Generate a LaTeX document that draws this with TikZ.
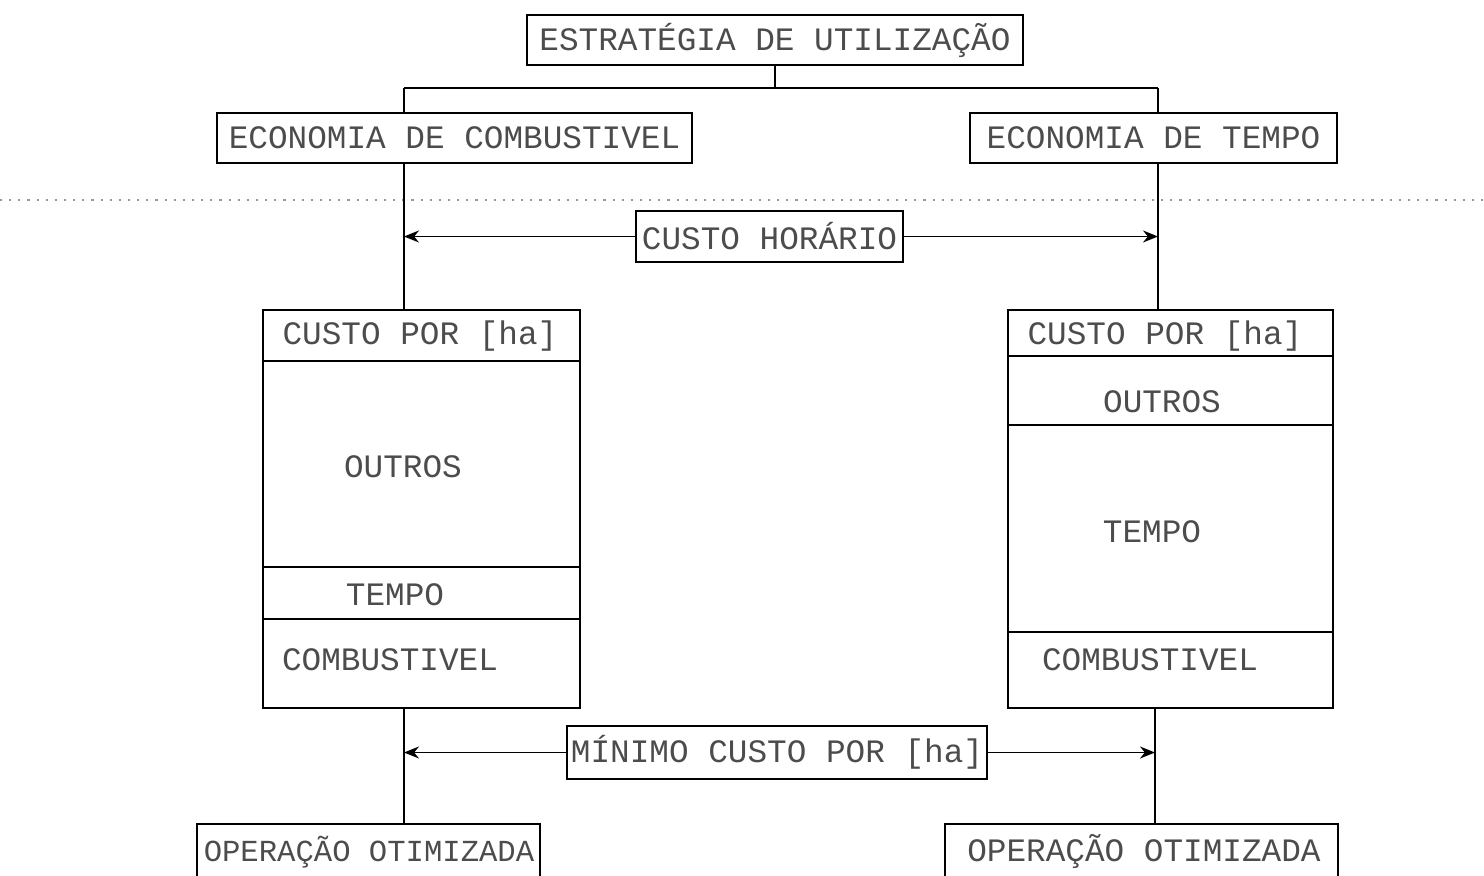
\documentclass[tikz,border=0pt]{standalone}
\usepackage{fontspec}
\usetikzlibrary{arrows.meta}
\newfontfamily\plotmono{Liberation Mono}
\tikzset{
  box/.style={draw, line width=0.5pt, inner sep=0pt, outer sep=0pt,
    text=black!70, font={\plotmono\fontsize{9.3}{11}\selectfont}},
  cell/.style={draw, line width=0.5pt, inner sep=0pt, outer sep=0pt},
  lbl/.style={inner sep=0pt, text=black!70, font={\plotmono\fontsize{9.3}{11}\selectfont}},
  link/.style={line width=0.5pt},
  >={Stealth[length=1.5mm,width=1.2mm]}
}
\begin{document}
\begin{tikzpicture}[x=0.01cm, y=-0.01cm]
  \path[use as bounding box] (0,0) rectangle (1484,875);
  \clip (0,0) rectangle (1484,875);

  % scan line
  \draw[black!40, dotted, line width=0.6pt] (0,200) -- (1484,200);

  \node[box, minimum width=4.96cm, minimum height=0.5cm] (top) at (775,40)
    {ESTRATÉGIA DE UTILIZAÇÃO};
  \node[box, minimum width=4.75cm, minimum height=0.5cm] (ecoComb) at (454.5,138)
    {ECONOMIA DE COMBUSTIVEL};
  \node[box, minimum width=3.67cm, minimum height=0.5cm] (ecoTempo) at (1153.5,138)
    {ECONOMIA DE TEMPO};
  \node[box, minimum width=2.67cm, minimum height=0.51cm] (custoHor) at (769.5,236.5)
    {CUSTO HORÁRIO};

  \coordinate (jL) at (404,88);
  \coordinate (jR) at (1158,88);
  \coordinate (kR) at (1155,720);

  \draw[link] (top.south) -- (top.south |- jL);
  \draw[link] (jL) -- (jR);
  \draw[link] (jL) -- (jL |- ecoComb.north);
  \draw[link] (jR) -- (jR |- ecoTempo.north);

  % left stack
  \node[cell, minimum width=3.17cm, minimum height=0.51cm] (lHa) at (421.5,335.5) {};
  \node[cell, minimum width=3.17cm, minimum height=2.06cm] (lOutros) at (421.5,464) {};
  \node[cell, minimum width=3.17cm, minimum height=0.52cm] (lTempo) at (421.5,593) {};
  \node[cell, minimum width=3.17cm, minimum height=0.89cm] (lComb) at (421.5,663.5) {};
  \node[lbl] (lHaT) at (420,336) {CUSTO POR [ha]};
  \node[lbl] (lOutrosT) at (403,467) {OUTROS};
  \node[lbl] (lTempoT) at (395,595) {TEMPO};
  \node[lbl] (lCombT) at (390,660) {COMBUSTIVEL};

  % right stack
  \node[cell, minimum width=3.25cm, minimum height=0.46cm] (rHa) at (1170.5,333) {};
  \node[cell, minimum width=3.25cm, minimum height=0.69cm] (rOutros) at (1170.5,390.5) {};
  \node[cell, minimum width=3.25cm, minimum height=2.07cm] (rTempo) at (1170.5,528.5) {};
  \node[cell, minimum width=3.25cm, minimum height=0.76cm] (rComb) at (1170.5,670) {};
  \node[lbl] (rHaT) at (1165,336) {CUSTO POR [ha]};
  \node[lbl] (rOutrosT) at (1162,402) {OUTROS};
  \node[lbl] (rTempoT) at (1152,532) {TEMPO};
  \node[lbl] (rCombT) at (1150,660) {COMBUSTIVEL};

  \draw[link] (ecoComb.south -| jL) -- (lHa.north -| jL);
  \draw[link] (ecoTempo.south -| jR) -- (rHa.north -| jR);
  \draw[link,->] (custoHor.west) -- (custoHor.west -| jL);
  \draw[link,->] (custoHor.east) -- (custoHor.east -| jR);

  \node[box, minimum width=4.20cm, minimum height=0.53cm] (minCusto) at (777,752.5)
    {MÍNIMO CUSTO POR [ha]};
  \node[box, minimum width=3.43cm, minimum height=0.7cm, anchor=north] (opL) at (368.5,824) {};
  \node[box, minimum width=3.93cm, minimum height=0.7cm, anchor=north] (opR) at (1141.5,824) {};
  \node[lbl, font={\plotmono\fontsize{8.7}{11}\selectfont}] (opLT) at (369,852) {OPERAÇÃO OTIMIZADA};
  \node[lbl] (opRT) at (1144,852) {OPERAÇÃO OTIMIZADA};

  \draw[link] (lComb.south -| jL) -- (opL.north -| jL);
  \draw[link] (rComb.south -| kR) -- (opR.north -| kR);
  \draw[link,->] (minCusto.west) -- (minCusto.west -| jL);
  \draw[link,->] (minCusto.east) -- (minCusto.east -| kR);
\end{tikzpicture}
\end{document}
